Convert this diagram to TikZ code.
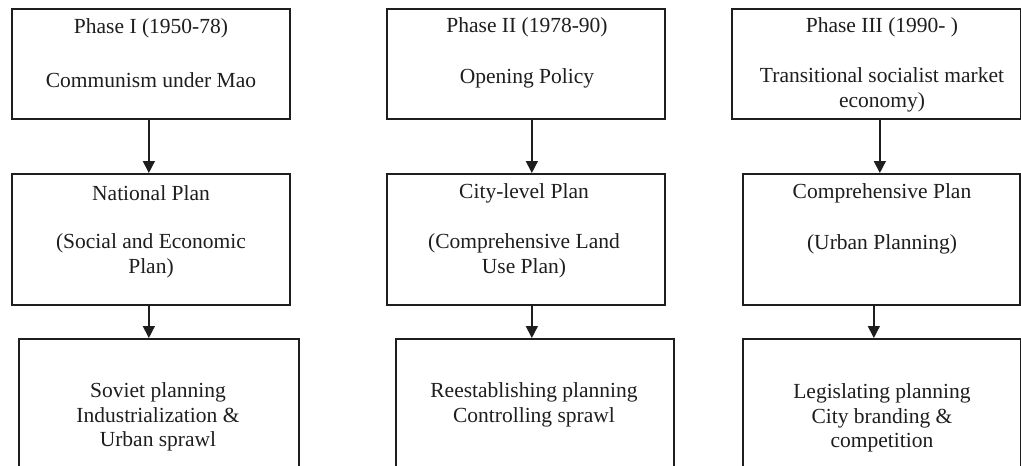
\documentclass[tikz,border=0pt]{standalone}
\usepackage{fontspec}
\setmainfont{Liberation Serif}
\usetikzlibrary{arrows.meta}
\definecolor{ink}{HTML}{1E1E1E}
\tikzset{
  box/.style={draw=ink, line width=1.7pt, rectangle, inner sep=0pt, anchor=north west},
  txt/.style={text=ink, align=center, font=\fontsize{21.5}{24.5}\selectfont, inner sep=0pt},
  arr/.style={draw=ink, line width=1.5pt, -{Triangle[width=12pt,length=12pt]}}
}
\begin{document}
\begin{tikzpicture}[x=1pt,y=-1pt]
\useasboundingbox (0,0) rectangle (1021,466);
\fill[white] (0,0) rectangle (1021,466);
\clip (0,0) rectangle (1021,466);

% column 1
\node[box, minimum width=278pt, minimum height=110pt] (t1) at (11,8) {};
\node[box, minimum width=278pt, minimum height=131pt] (m1) at (11,173) {};
\node[box, minimum width=280pt, minimum height=160pt] (b1) at (18,338) {};
% column 2
\node[box, minimum width=278pt, minimum height=110pt] (t2) at (386,8) {};
\node[box, minimum width=278pt, minimum height=131pt] (m2) at (386,173) {};
\node[box, minimum width=278pt, minimum height=160pt] (b2) at (395,338) {};
% column 3
\node[box, minimum width=289pt, minimum height=110pt] (t3) at (731,8) {};
\node[box, minimum width=277pt, minimum height=131pt] (m3) at (742,173) {};
\node[box, minimum width=278pt, minimum height=160pt] (b3) at (742,338) {};

% texts, column 1
\node[txt] (t1a) at (151,28) {Phase I (1950-78)};
\node[txt] (t1b) at (151,80) {Communism under Mao};
\node[txt] (m1a) at (151,193) {National Plan};
\node[txt] (m1b) at (151,256) {(Social and Economic\\Plan)};
\node[txt] (b1a) at (158,417) {Soviet planning\\Industrialization \&\\Urban sprawl};
% texts, column 2
\node[txt] (t2a) at (527,27) {Phase II (1978-90)};
\node[txt] (t2b) at (527,78) {Opening Policy};
\node[txt] (m2a) at (524,193) {City-level Plan};
\node[txt] (m2b) at (524,256) {(Comprehensive Land\\Use Plan)};
\node[txt] (b2a) at (534,405) {Reestablishing planning\\Controlling sprawl};
% texts, column 3
\node[txt] (t3a) at (882,27) {Phase III (1990- )};
\node[txt] (t3b) at (882,90) {Transitional socialist market\\economy)};
\node[txt] (m3a) at (882,193) {Comprehensive Plan};
\node[txt] (m3b) at (882,244) {(Urban Planning)};
\node[txt] (b3a) at (882,418) {Legislating planning\\City branding \&\\competition};

% connectors
\draw[arr] ([xshift=-2pt]t1.south) -- ([xshift=-2pt]t1.south |- m1.north);
\draw[arr] ([xshift=-2pt]m1.south) -- ([xshift=-2pt]m1.south |- b1.north);
\draw[arr] ([xshift=6pt]t2.south) -- ([xshift=6pt]t2.south |- m2.north);
\draw[arr] ([xshift=6pt]m2.south) -- ([xshift=6pt]m2.south |- b2.north);
\draw[arr] ([xshift=3.5pt]t3.south) -- ([xshift=3.5pt]t3.south |- m3.north);
\draw[arr] ([xshift=-7.5pt]m3.south) -- ([xshift=-7.5pt]m3.south |- b3.north);
\end{tikzpicture}
\end{document}
